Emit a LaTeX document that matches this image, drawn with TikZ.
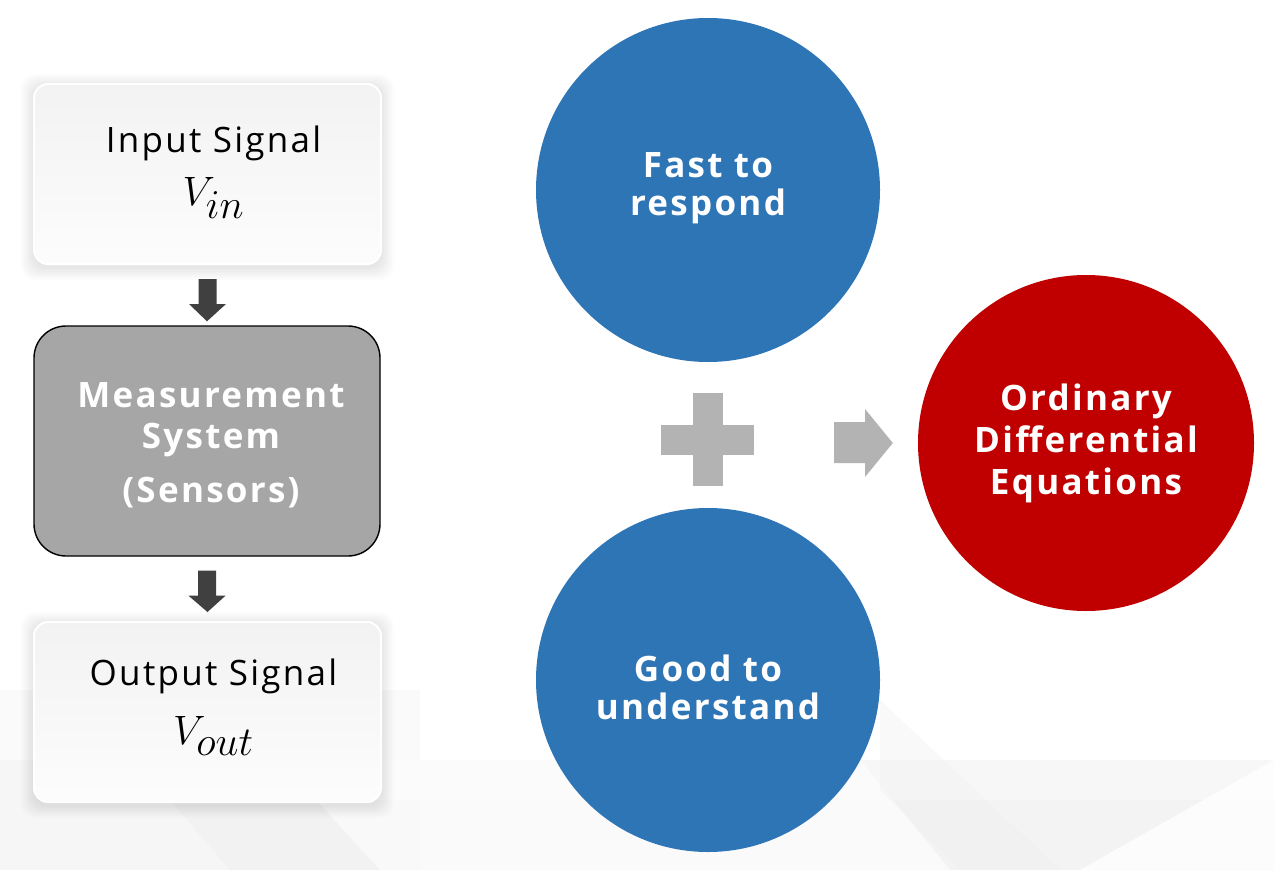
\documentclass[tikz,border=0pt]{standalone}
\usepackage{fontspec}
\usepackage{graphicx}
\setmainfont{Open Sans}
\usetikzlibrary{calc}
\definecolor{blueC}{HTML}{2E75B6}
\definecolor{redC}{HTML}{C00000}
\definecolor{grayBox}{HTML}{A6A6A6}
\definecolor{arrowDark}{HTML}{404040}
\definecolor{plusGray}{HTML}{B3B3B3}
\definecolor{bgA}{HTML}{F6F6F6}
\definecolor{bgB}{HTML}{F0F0F0}
\newcommand{\bigmath}[1]{\scalebox{1.65}{$#1$}}
\tikzset{
  sigbox/.style={rectangle, rounded corners=14pt, minimum width=347pt, minimum height=180pt,
    draw=white, line width=2pt, top color=black!5, bottom color=black!1},
  sigtext/.style={align=center, inner sep=0pt,
    font=\fontsize{35}{44}\selectfont\addfontfeatures{LetterSpace=6.5}},
  measbox/.style={rectangle, rounded corners=32pt, minimum width=346pt, minimum height=230pt,
    draw=black, line width=1.4pt, fill=grayBox},
  meastext/.style={text=white, align=center, inner sep=0pt,
    font=\fontsize{35}{41}\selectfont\bfseries\addfontfeatures{LetterSpace=6.5}},
  bigcirc/.style={circle, inner sep=0pt},
  circtext/.style={text=white, align=center, inner sep=0pt,
    font=\fontsize{35}{40}\selectfont\bfseries\addfontfeatures{LetterSpace=6.5}},
  darkarrow/.style={fill=arrowDark},
  lightshape/.style={fill=plusGray},
}
\begin{document}
\begin{tikzpicture}[x=1pt,y=-1pt]
\useasboundingbox (0,0) rectangle (1274,870);
\fill[white] (0,0) rectangle (1274,870);
% faint background shapes
\fill[bgA, opacity=0.5] (0,690) -- (420,690) -- (420,870) -- (0,870) -- cycle;
\fill[bgA, opacity=0.8] (0,760) -- (1274,760) -- (1274,870) -- (0,870) -- cycle;
\fill[bgB, opacity=0.5] (170,800) -- (1274,800) -- (1274,870) -- (230,870) -- cycle;
\fill[white, opacity=0.6] (280,760) -- (860,760) -- (950,870) -- (380,870) -- cycle;
\fill[white, opacity=0.8] (1080,870) -- (1274,760) -- (1274,870) -- cycle;
\fill[bgB, opacity=0.4] (880,700) -- (1060,870) -- (960,870) -- (880,790) -- cycle;

% shadows for light boxes
\foreach \r in {1,...,8}{
  \fill[black, opacity=0.011, rounded corners=14pt] (34-\r*1.6,84-\r*1.6+3) rectangle (381+\r*1.6,264+\r*1.6+3);
  \fill[black, opacity=0.011, rounded corners=14pt] (34-\r*1.6,622-\r*1.6+3) rectangle (381+\r*1.6,802+\r*1.6+3);
}

\node[sigbox] (in) at (207.5,174) {};
\node[sigtext] (intxt) at ($(in)+(6,-1.5)$) {Input Signal\\[9pt]\bigmath{V_{in}}};
\node[measbox] (meas) at (207,441) {};
\node[meastext] (meastxt) at ($(meas)+(4,4)$) {Measurement\\System\\[13pt](Sensors)};
\node[sigbox] (out) at (207.5,712) {};
\node[sigtext] (outtxt) at ($(out)+(6,-4.5)$) {Output Signal\\[15pt]\bigmath{V_{out}}};

% block arrows
\fill[darkarrow] ($(in.south)+(-9,14)$) -- ($(in.south)+(9,14)$) -- ($(in.south)+(9,39)$)
  -- ($(in.south)+(18.5,39)$) -- ($(meas.north)+(0,-4)$) -- ($(in.south)+(-18.5,39)$)
  -- ($(in.south)+(-9,39)$) -- cycle;
\fill[darkarrow] ($(meas.south)+(-9,14)$) -- ($(meas.south)+(9,14)$) -- ($(meas.south)+(9,39)$)
  -- ($(meas.south)+(18.5,39)$) -- ($(out.north)+(0,-9)$) -- ($(meas.south)+(-18.5,39)$)
  -- ($(meas.south)+(-9,39)$) -- cycle;

% circles
\node[bigcirc, fill=blueC, minimum size=344pt] (fast) at (708,190) {};
\node[circtext] (fasttxt) at ($(fast)+(0,-2)$) {Fast to\\[-2pt]respond};
\node[bigcirc, fill=blueC, minimum size=344pt] (good) at (708,680) {};
\node[circtext] (goodtxt) at ($(good)+(0,7)$) {Good to\\[-2pt]understand};
\node[bigcirc, fill=redC, minimum size=336pt] (ode) at (1086,443) {};
\node[circtext] (odetxt) at ($(ode)+(0,0)$) {Ordinary\\[2pt]Differential\\[2pt]Equations};

% plus sign
\coordinate (plus) at (707.5,439.5);
\fill[lightshape] ($(plus)+(-46.5,-15)$) rectangle ($(plus)+(46.5,15)$);
\fill[lightshape] ($(plus)+(-15,-46.5)$) rectangle ($(plus)+(15,46.5)$);

% right arrow to ODE
\coordinate (ra) at (834,443);
\fill[lightshape] ($(ra)+(0,-21)$) -- ($(ra)+(31,-21)$) -- ($(ra)+(31,-34)$) -- ($(ode.west)+(-25,0)$)
  -- ($(ra)+(31,34)$) -- ($(ra)+(31,20)$) -- ($(ra)+(0,20)$) -- cycle;
\end{tikzpicture}
\end{document}
